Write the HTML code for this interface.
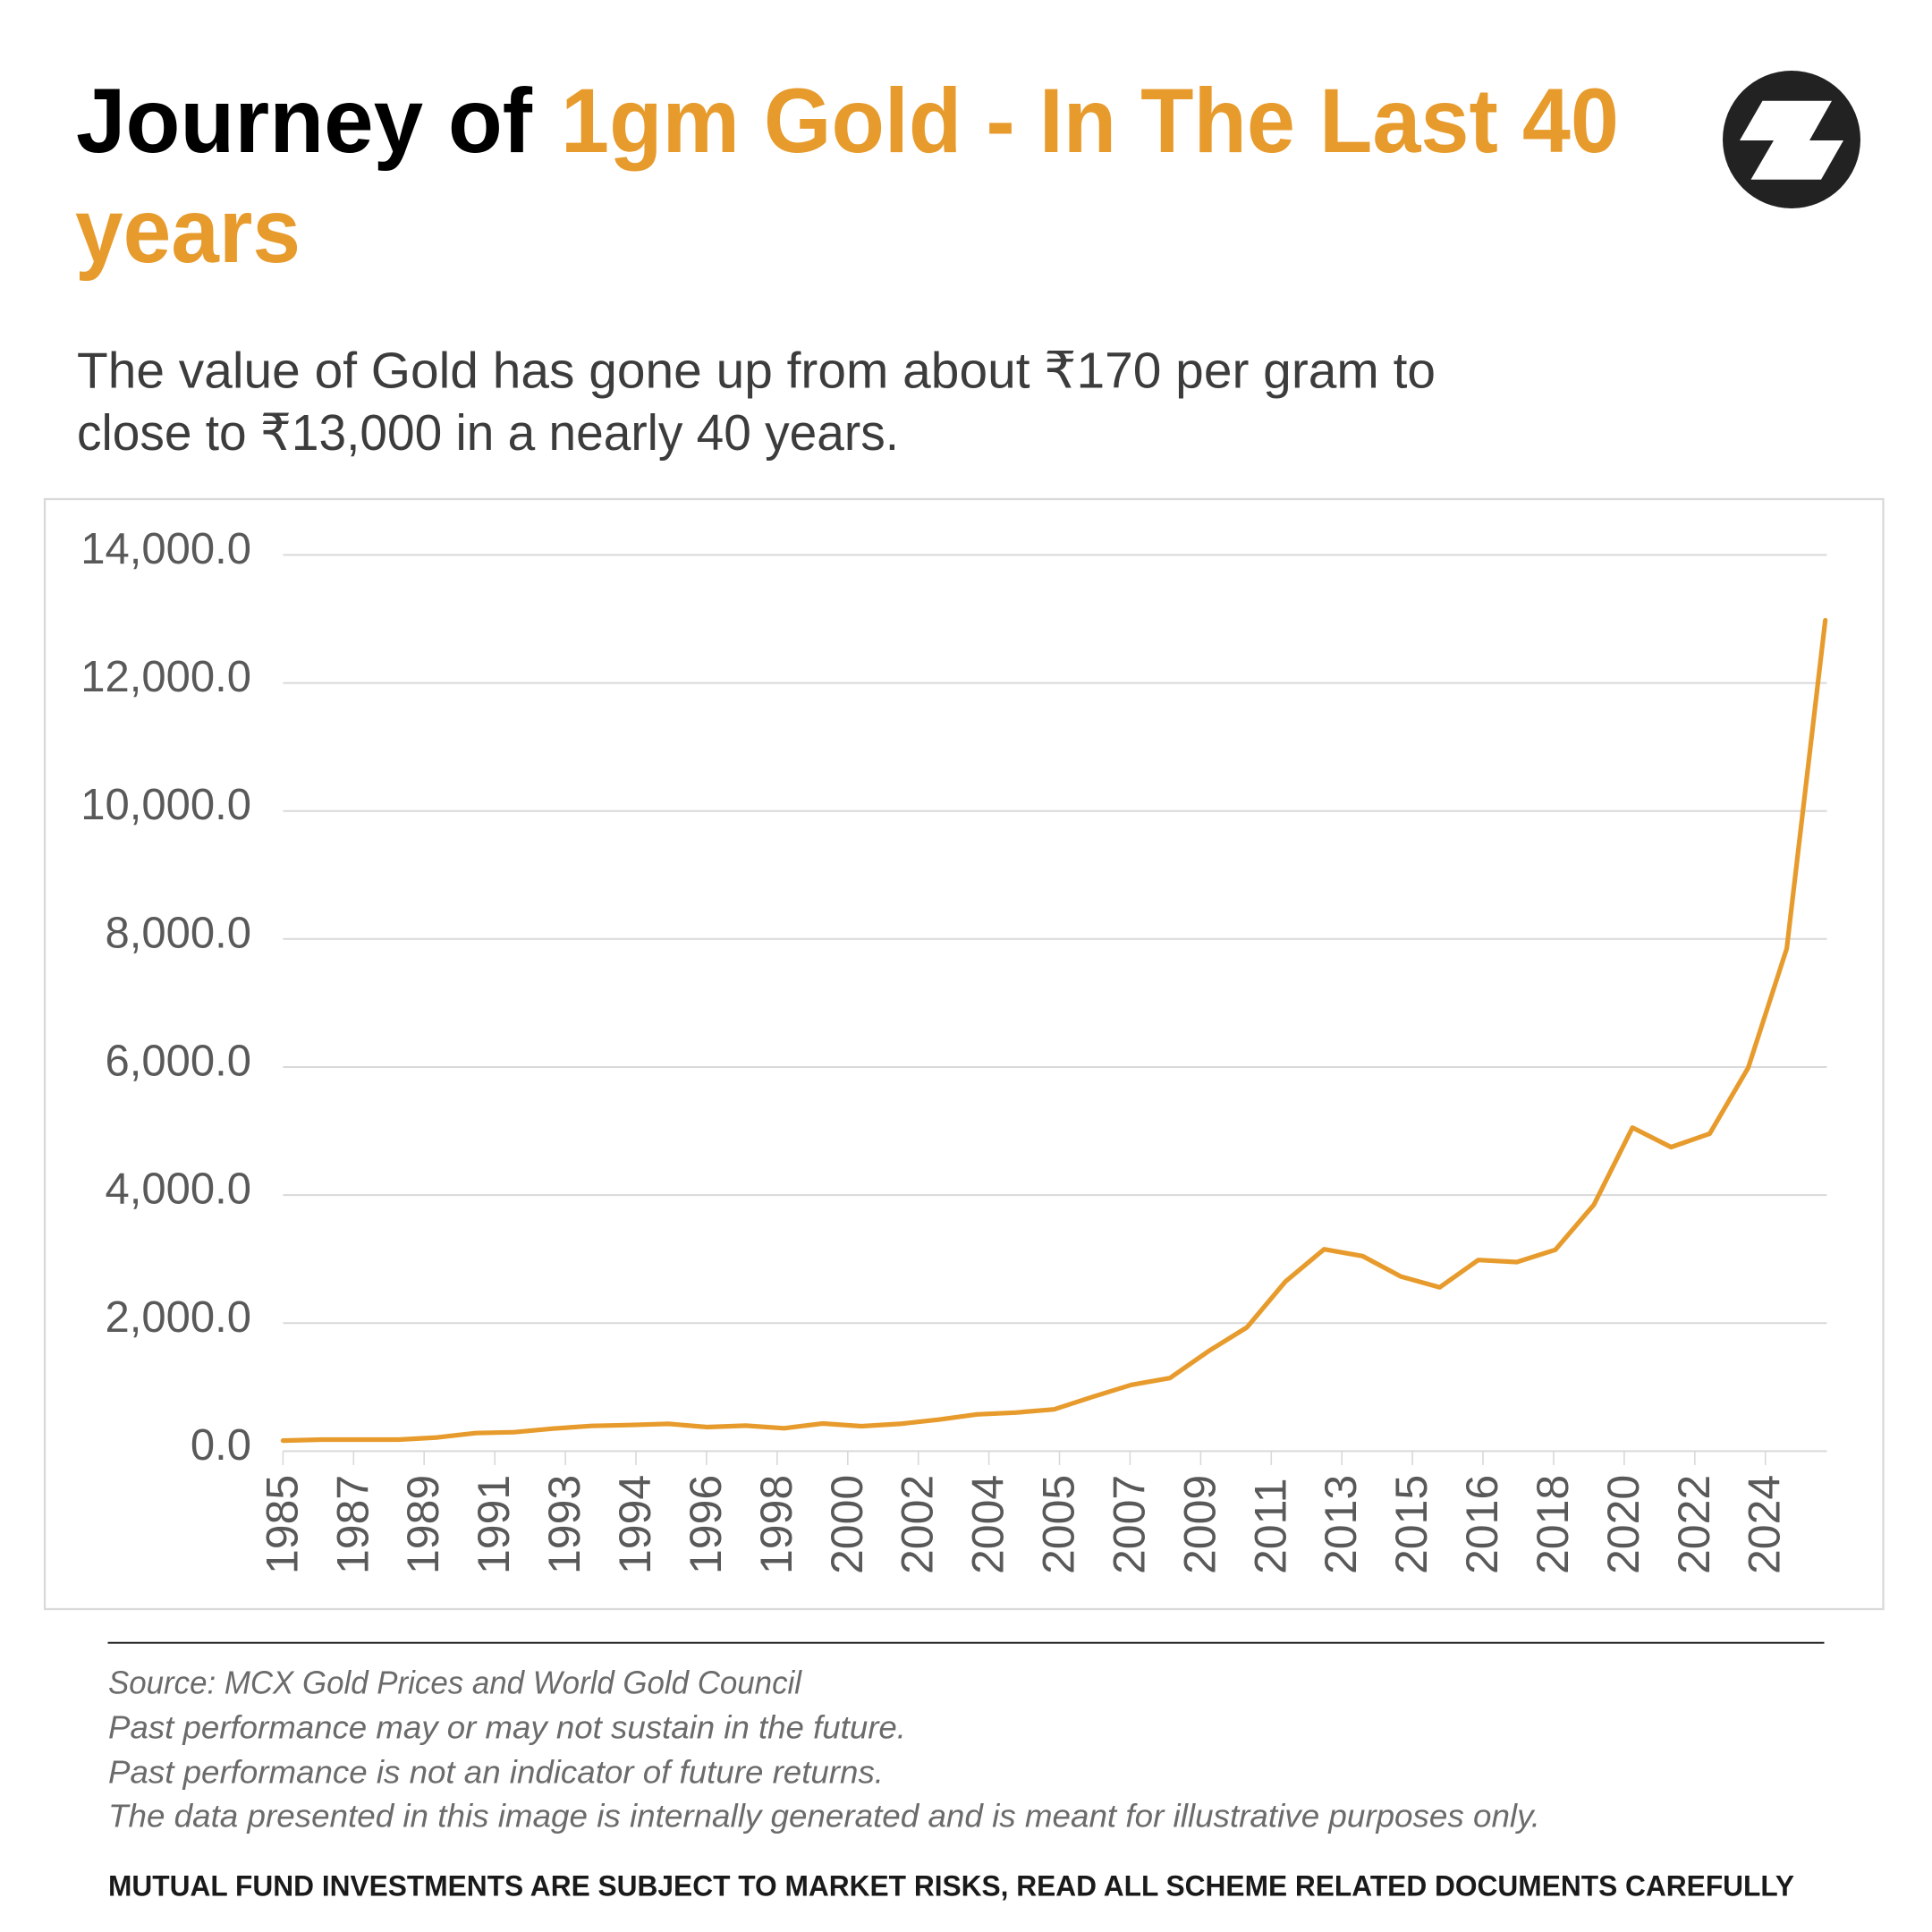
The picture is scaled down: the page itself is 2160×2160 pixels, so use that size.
<!DOCTYPE html>
<html>
<head>
<meta charset="utf-8">
<style>
html,body{margin:0;padding:0;background:#fff;}
svg{display:block;}
text{font-family:"Liberation Sans","DejaVu Sans",sans-serif;}
</style>
</head>
<body>
<svg xmlns="http://www.w3.org/2000/svg" width="2160" height="2160" viewBox="0 0 2160 2160">
<rect x="0" y="0" width="2160" height="2160" fill="#ffffff"/>

<!-- Title -->
<text x="85" y="170" font-size="102" font-weight="bold" fill="#000000" textLength="510" lengthAdjust="spacingAndGlyphs">Journey of</text>
<text x="627" y="170" font-size="102" font-weight="bold" fill="#E79B2C" textLength="1183" lengthAdjust="spacingAndGlyphs">1gm Gold - In The Last 40</text>
<text x="84" y="293" font-size="102" font-weight="bold" fill="#E79B2C" textLength="252" lengthAdjust="spacingAndGlyphs">years</text>

<!-- Logo -->
<circle cx="2003" cy="156" r="77" fill="#222222"/>
<polygon points="1970.5,112.7 2048,112.7 2023,157 2061,157 2036,200.7 1957.5,200.7 1983,157 1945,157" fill="#ffffff"/>

<!-- Subtitle -->
<text x="86" y="433.5" font-size="57" fill="#3c3c3c" textLength="1519" lengthAdjust="spacingAndGlyphs">The value of Gold has gone up from about ₹170 per gram to</text>
<text x="86" y="503" font-size="57" fill="#3c3c3c" textLength="919" lengthAdjust="spacingAndGlyphs">close to ₹13,000 in a nearly 40 years.</text>

<!-- Chart box -->
<rect x="50" y="558" width="2055.5" height="1241" fill="none" stroke="#d9d9d9" stroke-width="2.3"/>

<!-- Gridlines -->
<g stroke="#d9d9d9" stroke-width="2">
<line x1="316.4" y1="620.4" x2="2042.5" y2="620.4"/>
<line x1="316.4" y1="763.6" x2="2042.5" y2="763.6"/>
<line x1="316.4" y1="906.7" x2="2042.5" y2="906.7"/>
<line x1="316.4" y1="1049.8" x2="2042.5" y2="1049.8"/>
<line x1="316.4" y1="1193.0" x2="2042.5" y2="1193.0"/>
<line x1="316.4" y1="1336.1" x2="2042.5" y2="1336.1"/>
<line x1="316.4" y1="1479.3" x2="2042.5" y2="1479.3"/>
<line x1="316.4" y1="1622.4" x2="2042.5" y2="1622.4"/>
</g>

<!-- Ticks -->
<g stroke="#d9d9d9" stroke-width="1.6">
<line x1="316.4" y1="1622.4" x2="316.4" y2="1638"/>
<line x1="395.3" y1="1622.4" x2="395.3" y2="1638"/>
<line x1="474.2" y1="1622.4" x2="474.2" y2="1638"/>
<line x1="553.2" y1="1622.4" x2="553.2" y2="1638"/>
<line x1="632.1" y1="1622.4" x2="632.1" y2="1638"/>
<line x1="711.0" y1="1622.4" x2="711.0" y2="1638"/>
<line x1="789.9" y1="1622.4" x2="789.9" y2="1638"/>
<line x1="868.8" y1="1622.4" x2="868.8" y2="1638"/>
<line x1="947.8" y1="1622.4" x2="947.8" y2="1638"/>
<line x1="1026.7" y1="1622.4" x2="1026.7" y2="1638"/>
<line x1="1105.6" y1="1622.4" x2="1105.6" y2="1638"/>
<line x1="1184.5" y1="1622.4" x2="1184.5" y2="1638"/>
<line x1="1263.4" y1="1622.4" x2="1263.4" y2="1638"/>
<line x1="1342.4" y1="1622.4" x2="1342.4" y2="1638"/>
<line x1="1421.3" y1="1622.4" x2="1421.3" y2="1638"/>
<line x1="1500.2" y1="1622.4" x2="1500.2" y2="1638"/>
<line x1="1579.1" y1="1622.4" x2="1579.1" y2="1638"/>
<line x1="1658.0" y1="1622.4" x2="1658.0" y2="1638"/>
<line x1="1737.0" y1="1622.4" x2="1737.0" y2="1638"/>
<line x1="1815.9" y1="1622.4" x2="1815.9" y2="1638"/>
<line x1="1894.8" y1="1622.4" x2="1894.8" y2="1638"/>
<line x1="1973.7" y1="1622.4" x2="1973.7" y2="1638"/>
</g>

<!-- Y labels -->
<g font-size="49" fill="#595959" text-anchor="end">
<text x="281" y="630">14,000.0</text>
<text x="281" y="773">12,000.0</text>
<text x="281" y="916">10,000.0</text>
<text x="281" y="1059.5">8,000.0</text>
<text x="281" y="1202.5">6,000.0</text>
<text x="281" y="1345.5">4,000.0</text>
<text x="281" y="1489">2,000.0</text>
<text x="281" y="1632">0.0</text>
</g>

<!-- X labels -->
<g font-size="50" fill="#595959">
<text transform="translate(332.4,1760) rotate(-90)">1985</text>
<text transform="translate(411.3,1760) rotate(-90)">1987</text>
<text transform="translate(490.2,1760) rotate(-90)">1989</text>
<text transform="translate(569.2,1760) rotate(-90)">1991</text>
<text transform="translate(648.1,1760) rotate(-90)">1993</text>
<text transform="translate(727.0,1760) rotate(-90)">1994</text>
<text transform="translate(805.9,1760) rotate(-90)">1996</text>
<text transform="translate(884.8,1760) rotate(-90)">1998</text>
<text transform="translate(963.8,1760) rotate(-90)">2000</text>
<text transform="translate(1042.7,1760) rotate(-90)">2002</text>
<text transform="translate(1121.6,1760) rotate(-90)">2004</text>
<text transform="translate(1200.5,1760) rotate(-90)">2005</text>
<text transform="translate(1279.4,1760) rotate(-90)">2007</text>
<text transform="translate(1358.4,1760) rotate(-90)">2009</text>
<text transform="translate(1437.3,1760) rotate(-90)">2011</text>
<text transform="translate(1516.2,1760) rotate(-90)">2013</text>
<text transform="translate(1595.1,1760) rotate(-90)">2015</text>
<text transform="translate(1674.0,1760) rotate(-90)">2016</text>
<text transform="translate(1753.0,1760) rotate(-90)">2018</text>
<text transform="translate(1831.9,1760) rotate(-90)">2020</text>
<text transform="translate(1910.8,1760) rotate(-90)">2022</text>
<text transform="translate(1989.7,1760) rotate(-90)">2024</text>
</g>

<!-- Series -->
<polyline fill="none" stroke="#E79B2C" stroke-width="5.2" stroke-linejoin="round" stroke-linecap="round"
points="316.4,1610.6 359.5,1609.5 402.6,1609.5 445.7,1609.5 488.8,1607.1 531.9,1602.2 575.0,1601.2 618.1,1597.2 661.3,1594.2 704.4,1593.2 747.5,1591.9 790.6,1595.5 833.7,1593.9 876.8,1596.8 919.9,1591.5 963.0,1594.5 1006.1,1591.9 1049.2,1587.2 1092.3,1581.3 1135.4,1579.3 1178.5,1575.7 1221.6,1561.7 1264.8,1548.3 1307.9,1540.7 1351.0,1510.7 1394.1,1484.0 1437.2,1432.7 1480.3,1396.7 1523.4,1404.3 1566.5,1427.3 1609.6,1439.3 1652.7,1408.7 1695.8,1411.0 1738.9,1397.3 1782.0,1346.9 1825.1,1260.7 1868.3,1282.5 1911.4,1267.5 1954.5,1193.8 1997.6,1060.5 2040.7,693.5"/>

<!-- Footer -->
<line x1="120.5" y1="1836.7" x2="2039.5" y2="1836.7" stroke="#111111" stroke-width="1.8"/>
<g font-size="36.5" font-style="italic" fill="#6b6b6b">
<text x="121" y="1893.3" textLength="775" lengthAdjust="spacingAndGlyphs">Source: MCX Gold Prices and World Gold Council</text>
<text x="121" y="1943.3" textLength="892" lengthAdjust="spacingAndGlyphs">Past performance may or may not sustain in the future.</text>
<text x="121" y="1993.3" textLength="867" lengthAdjust="spacingAndGlyphs">Past performance is not an indicator of future returns.</text>
<text x="121" y="2042.7" textLength="1601" lengthAdjust="spacingAndGlyphs">The data presented in this image is internally generated and is meant for illustrative purposes only.</text>
</g>
<text x="121" y="2119.3" font-size="32" font-weight="bold" fill="#1a1a1a" textLength="1885" lengthAdjust="spacingAndGlyphs">MUTUAL FUND INVESTMENTS ARE SUBJECT TO MARKET RISKS, READ ALL SCHEME RELATED DOCUMENTS CAREFULLY</text>
</svg>
</body>
</html>
